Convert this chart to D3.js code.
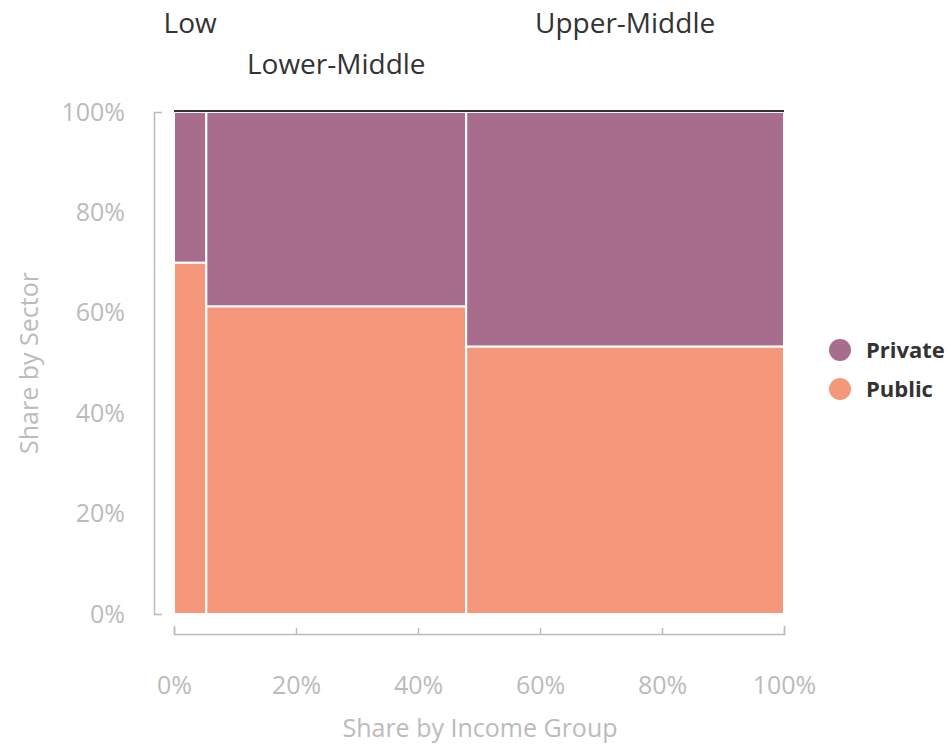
<!DOCTYPE html>
<html>
<head>
<meta charset="utf-8">
<script src="https://cdn.jsdelivr.net/npm/d3@7"></script>
<style>
  body { margin: 0; background: #fff; }
  text { font-family: "Open Sans", "Noto Sans", sans-serif; }
</style>
</head>
<body>
<div id="chart"></div>
<script>
// income groups, their share of the total (x) and the public share within each (y)
const groups = ["Low", "Lower-Middle", "Upper-Middle"];
const groupShare = [0.053, 0.426, 0.521];
const publicShare = [0.70, 0.613, 0.533];
const sectors = ["Private", "Public"];
const colors = ["#a86c8c", "#f5977a"];
const ticks = [0, 0.2, 0.4, 0.6, 0.8, 1];

const width = 951, height = 744;
const margin = {left: 174, right: 167, top: 112, bottom: 130};

const svg = d3.select("#chart")
    .append("svg")
    .attr("width", width)
    .attr("height", height);

const x = d3.scaleLinear().domain([0, 1]).range([margin.left, width - margin.right]);
const y = d3.scaleLinear().domain([0, 1]).range([height - margin.bottom, margin.top]);
const color = d3.scaleOrdinal().domain(sectors).range(colors);

// cumulative x positions
let acc = 0;
const cells = groups.map((g, i) => {
    const x0 = acc;
    acc += groupShare[i];
    return {group: g, i: i, x0: x0, x1: acc, pub: publicShare[i]};
});

const rects = [];
cells.forEach(c => {
    rects.push({sector: "Public", x0: c.x0, x1: c.x1, y0: 0, y1: c.pub});
    rects.push({sector: "Private", x0: c.x0, x1: c.x1, y0: c.pub, y1: 1});
});

svg.append("g")
    .selectAll("rect")
    .data(rects)
    .join("rect")
    .attr("x", d => x(d.x0))
    .attr("y", d => y(d.y1))
    .attr("width", d => x(d.x1) - x(d.x0))
    .attr("height", d => y(d.y0) - y(d.y1))
    .attr("fill", d => color(d.sector))
    .attr("stroke", "#fff")
    .attr("stroke-width", 2);

// dark line on top
svg.append("line")
    .attr("x1", x(0))
    .attr("x2", x(1))
    .attr("y1", y(1) - 1)
    .attr("y2", y(1) - 1)
    .attr("stroke", "#333")
    .attr("stroke-width", 2);

// group labels, staggered
svg.append("g")
    .selectAll("text")
    .data(cells)
    .join("text")
    .attr("x", d => x((d.x0 + d.x1) / 2))
    .attr("y", d => d.i % 2 === 0 ? 33 : 74)
    .attr("text-anchor", "middle")
    .attr("font-size", 28)
    .attr("fill", "#333")
    .text(d => d.group);

// y axis
const yAxis = svg.append("g")
    .attr("transform", `translate(${margin.left - 20},0)`)
    .call(d3.axisLeft(y).tickValues(ticks).tickFormat(d3.format(".0%"))
        .tickSizeInner(0).tickSizeOuter(-8).tickPadding(29));

// x axis
const xAxis = svg.append("g")
    .attr("transform", `translate(0,${height - margin.bottom + 20})`)
    .call(d3.axisBottom(x).tickValues(ticks).tickFormat(d3.format(".0%"))
        .tickSizeInner(-6).tickSizeOuter(-8).tickPadding(42));

[yAxis, xAxis].forEach(a => {
    a.select(".domain").attr("stroke", "#bbb").attr("stroke-width", 1.5);
    a.selectAll(".tick line").attr("stroke", "#bbb").attr("stroke-width", 1.5);
    a.selectAll(".tick text")
        .attr("fill", "#bbb")
        .attr("font-size", 25)
        .attr("font-family", "'Open Sans', 'Noto Sans', sans-serif");
});

// axis titles
svg.append("text")
    .attr("x", 480)
    .attr("y", 737)
    .attr("text-anchor", "middle")
    .attr("font-size", 25)
    .attr("fill", "#bbb")
    .text("Share by Income Group");

svg.append("text")
    .attr("transform", `translate(38,${(y(0) + y(1)) / 2}) rotate(-90)`)
    .attr("text-anchor", "middle")
    .attr("font-size", 25)
    .attr("fill", "#bbb")
    .text("Share by Sector");

// legend
const legend = svg.append("g")
    .attr("transform", "translate(840,350)")
    .selectAll("g")
    .data(sectors)
    .join("g")
    .attr("transform", (d, i) => `translate(0,${i * 39})`);

legend.append("circle")
    .attr("r", 11)
    .attr("fill", d => color(d));

legend.append("text")
    .attr("x", 26)
    .attr("dy", "0.35em")
    .attr("font-size", 22)
    .attr("font-weight", "bold")
    .attr("fill", "#333")
    .text(d => d);
</script>
</body>
</html>
